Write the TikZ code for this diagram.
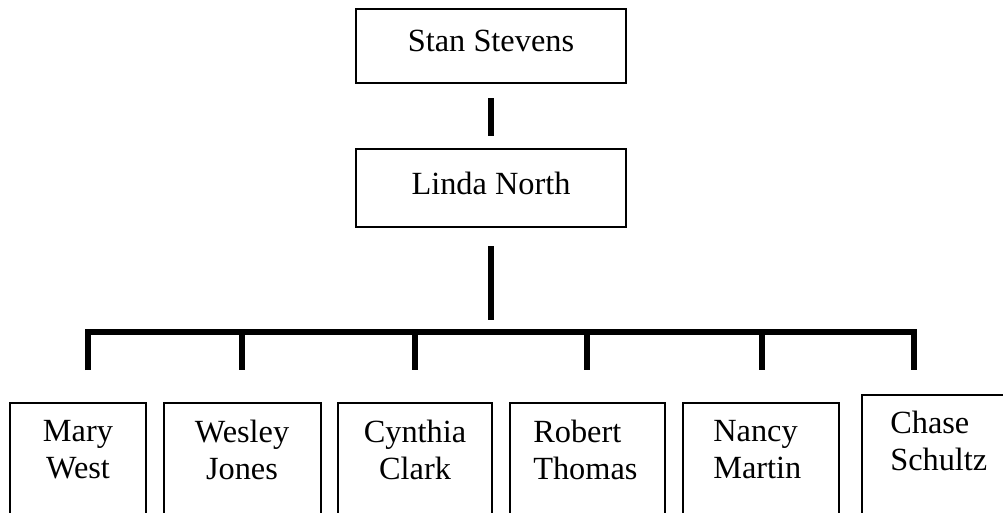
\documentclass[tikz,border=0pt]{standalone}
\usepackage{fontspec}
\setmainfont{Liberation Serif}
\usetikzlibrary{positioning}
\tikzset{
  boss/.style={draw,line width=1.5pt,minimum width=6.75cm,minimum height=1.9cm,
    text depth=7pt,font=\fontsize{23}{26.5}\selectfont},
  staff/.style={draw,line width=1.5pt,minimum height=3.5cm},
  who/.style={inner sep=0pt,align=center,anchor=north,font=\fontsize{23}{26.5}\selectfont},
  bar/.style={line width=4.6pt},
}

\begin{document}
\begin{tikzpicture}[x=0.025cm,y=-0.025cm]
  \useasboundingbox (0,0) rectangle (1003,512);
  \clip (0,0) rectangle (1003,512);
  % top of the chart
  \node[boss,minimum height=1.85cm] (stan) at (491,46) {Stan Stevens};
  \node[boss,minimum height=1.95cm] (linda) at (491,188) {Linda North};
  \draw[bar,shorten <=10pt,shorten >=8.5pt] (stan) -- (linda);
  \coordinate (hub) at (491,320);
  \draw[bar,shorten <=13pt] (linda) -- (hub);
  % the bar and its drops
  \foreach \x [count=\i] in {88,242,415,587,762,914} {
    \coordinate (top\i) at (\x,332);
    \coordinate (drop\i) at (\x,370);
  }
  \draw[bar,line width=3.8pt] (drop1) -- (top1) -- (top6) -- (drop6);
  \foreach \i in {2,...,5} \draw[bar] (top\i) -- (drop\i);
  % staff boxes
  \node[staff,minimum width=3.4cm] (mary) at (78,473) {};
  \node[staff,minimum width=3.925cm] (wesley) at (242.5,473) {};
  \node[staff,minimum width=3.85cm] (cynthia) at (415,473) {};
  \node[staff,minimum width=3.875cm] (robert) at (587.5,473) {};
  \node[staff,minimum width=3.9cm] (nancy) at (761,473) {};
  \node[staff,minimum width=3.7cm] (chase) at (936,465) {};
  \node[who] (mary-t) at (78,420) {Mary\\West};
  \node[who] (wesley-t) at (242,420) {Wesley\\Jones};
  \node[who] (cynthia-t) at (415,420) {Cynthia\\Clark};
  \node[who,align=left,anchor=north west] (robert-t) at (533,420) {Robert\\Thomas};
  \node[who,align=left,anchor=north west] (nancy-t) at (713,420) {Nancy\\Martin};
  \node[who,align=left,anchor=north west] (chase-t) at (890,411) {Chase\\Schultz};
\end{tikzpicture}
\end{document}
